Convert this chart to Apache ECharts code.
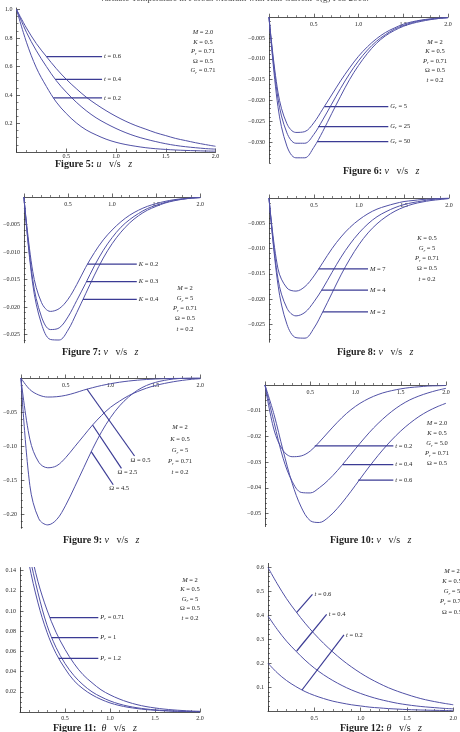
<!DOCTYPE html>
<html>
<head>
<meta charset="utf-8">
<script src="https://cdn.jsdelivr.net/npm/echarts@6/dist/echarts.min.js"></script>
<style>
html, body { margin: 0; padding: 0; background: #fff; }
#chart { width: 460px; height: 732px; }
</style>
</head>
<body>
<div id="chart"></div>
<script>
// z grid shared by every curve
const Z = [0, 0.1, 0.2, 0.3, 0.4, 0.5, 0.6, 0.7, 0.8, 0.9, 1.0, 1.1, 1.2, 1.3, 1.4, 1.5, 1.6, 1.7, 1.8, 1.9, 2.0];

// Figure 5: u v/s z
const fig5T02 = [1.0, 0.77, 0.59, 0.46, 0.35, 0.27, 0.205, 0.155, 0.12, 0.09, 0.068, 0.052, 0.04, 0.03, 0.023, 0.018, 0.014, 0.011, 0.009, 0.007, 0.006];
const fig5T04 = [1.0, 0.84, 0.71, 0.60, 0.50, 0.42, 0.35, 0.29, 0.24, 0.20, 0.165, 0.135, 0.11, 0.09, 0.073, 0.058, 0.046, 0.037, 0.03, 0.024, 0.02];
const fig5T06 = [1.0, 0.87, 0.76, 0.67, 0.585, 0.51, 0.445, 0.385, 0.335, 0.29, 0.25, 0.215, 0.185, 0.16, 0.135, 0.115, 0.095, 0.08, 0.065, 0.052, 0.04];
// Figure 6: v v/s z (Gr)
const fig6Gr5 = [0, -0.0180, -0.0256, -0.0277, -0.0275, -0.0254, -0.0221, -0.0187, -0.0153, -0.0122, -0.0094, -0.0071, -0.0052, -0.0037, -0.0026, -0.0017, -0.0011, -0.0007, -0.0004, -0.0002, -0.0001];
const fig6Gr25 = [0, -0.0195, -0.0278, -0.0303, -0.0303, -0.0282, -0.0247, -0.0209, -0.0171, -0.0136, -0.0105, -0.0079, -0.0058, -0.0042, -0.0029, -0.0020, -0.0013, -0.0008, -0.0005, -0.0003, -0.0001];
const fig6Gr50 = [0, -0.0215, -0.0310, -0.0338, -0.0338, -0.0313, -0.0275, -0.0232, -0.0190, -0.0150, -0.0116, -0.0087, -0.0063, -0.0045, -0.0032, -0.0022, -0.0015, -0.0010, -0.0006, -0.0003, -0.0001];
// Figure 7: v v/s z (K)
const fig7K02 = [0, -0.0135, -0.0192, -0.0208, -0.0203, -0.0186, -0.0159, -0.0128, -0.0101, -0.0078, -0.0060, -0.0045, -0.0033, -0.0024, -0.0017, -0.0012, -0.0008, -0.0005, -0.0003, -0.0002, -0.0001];
const fig7K03 = [0, -0.0150, -0.0218, -0.0241, -0.0238, -0.0218, -0.0188, -0.0157, -0.0125, -0.0097, -0.0074, -0.0055, -0.0041, -0.0030, -0.0021, -0.0015, -0.0010, -0.0006, -0.0004, -0.0002, -0.0001];
const fig7K04 = [0, -0.0158, -0.0231, -0.0259, -0.0260, -0.0242, -0.0210, -0.0176, -0.0142, -0.0111, -0.0085, -0.0064, -0.0047, -0.0034, -0.0024, -0.0017, -0.0011, -0.0007, -0.0004, -0.0002, -0.0001];
// Figure 8: v v/s z (M)
const fig8M7 = [0, -0.0140, -0.0178, -0.0184, -0.0175, -0.0154, -0.0127, -0.0100, -0.0077, -0.0058, -0.0043, -0.0031, -0.0022, -0.0016, -0.0011, -0.0007, -0.0005, -0.0003, -0.0002, -0.0001, 0];
const fig8M4 = [0, -0.0160, -0.0218, -0.0233, -0.0226, -0.0205, -0.0178, -0.0147, -0.0117, -0.0091, -0.0069, -0.0051, -0.0037, -0.0027, -0.0019, -0.0013, -0.0009, -0.0006, -0.0003, -0.0002, -0.0001];
const fig8M2 = [0, -0.0172, -0.0250, -0.0276, -0.0277, -0.0257, -0.0224, -0.0188, -0.0152, -0.0120, -0.0092, -0.0069, -0.0051, -0.0037, -0.0026, -0.0018, -0.0012, -0.0008, -0.0005, -0.0003, -0.0001];
// Figure 9: v v/s z (Omega)
const fig9W05 = [0, -0.0170, -0.0250, -0.0280, -0.0275, -0.0255, -0.0220, -0.0178, -0.0142, -0.0110, -0.0084, -0.0062, -0.0045, -0.0032, -0.0022, -0.0015, -0.0010, -0.0006, -0.0004, -0.0002, -0.0001];
const fig9W25 = [0, -0.090, -0.124, -0.132, -0.129, -0.117, -0.101, -0.085, -0.069, -0.055, -0.043, -0.034, -0.026, -0.020, -0.015, -0.011, -0.008, -0.0055, -0.0035, -0.002, -0.001];
const fig9W45 = [0, -0.158, -0.207, -0.216, -0.208, -0.187, -0.160, -0.132, -0.104, -0.079, -0.058, -0.041, -0.028, -0.018, -0.011, -0.0065, -0.0035, -0.0015, -0.0005, 0, 0];
// Figure 10: v v/s z (t)
const fig10T02 = [0, -0.0175, -0.0255, -0.0279, -0.0276, -0.0257, -0.0222, -0.0183, -0.0145, -0.0111, -0.0083, -0.0061, -0.0044, -0.0031, -0.0022, -0.0015, -0.0010, -0.0007, -0.0004, -0.0003, -0.0002];
const fig10T04 = [0, -0.0145, -0.0285, -0.0375, -0.0418, -0.0420, -0.0400, -0.0370, -0.0333, -0.0291, -0.0248, -0.0206, -0.0167, -0.0133, -0.0103, -0.0078, -0.0058, -0.0043, -0.0031, -0.0021, -0.0013];
const fig10T06 = [0, -0.0115, -0.0255, -0.0382, -0.0475, -0.0528, -0.0535, -0.0515, -0.0480, -0.0437, -0.0390, -0.0342, -0.0296, -0.0253, -0.0214, -0.0179, -0.0149, -0.0123, -0.0102, -0.0085, -0.0071];
// Figure 11: theta v/s z (Pr)
const fig11Pr071 = [0.2, 0.166, 0.129, 0.101, 0.079, 0.062, 0.048, 0.037, 0.029, 0.022, 0.017, 0.013, 0.0098, 0.0073, 0.0054, 0.004, 0.0029, 0.0021, 0.0015, 0.001, 0.0007];
const fig11Pr1 = [0.2, 0.157, 0.118, 0.086, 0.064, 0.048, 0.036, 0.027, 0.020, 0.015, 0.011, 0.008, 0.0058, 0.0042, 0.003, 0.0021, 0.0015, 0.001, 0.0007, 0.0005, 0.0003];
const fig11Pr12 = [0.2, 0.147, 0.108, 0.079, 0.058, 0.043, 0.031, 0.023, 0.017, 0.0125, 0.009, 0.0065, 0.0047, 0.0034, 0.0024, 0.0017, 0.0012, 0.0008, 0.0005, 0.0003, 0.0002];
// Figure 12: theta v/s z (t)
const fig12T06 = [0.598, 0.53, 0.468, 0.415, 0.366, 0.322, 0.282, 0.246, 0.213, 0.184, 0.158, 0.135, 0.115, 0.097, 0.082, 0.069, 0.057, 0.047, 0.039, 0.032, 0.026];
const fig12T04 = [0.396, 0.340, 0.291, 0.250, 0.212, 0.179, 0.151, 0.127, 0.106, 0.088, 0.073, 0.060, 0.049, 0.040, 0.032, 0.026, 0.021, 0.017, 0.014, 0.011, 0.009];
const fig12T02 = [0.199, 0.159, 0.127, 0.102, 0.081, 0.065, 0.052, 0.041, 0.033, 0.026, 0.021, 0.016, 0.013, 0.010, 0.008, 0.006, 0.0047, 0.0036, 0.0028, 0.0021, 0.0016];

// y tick labels
const fig5YTicks = [0.2, 0.4, 0.6, 0.8, 1.0];
const fig6YTicks = [-0.030, -0.025, -0.020, -0.015, -0.010, -0.005];
const fig7YTicks = [-0.025, -0.020, -0.015, -0.010, -0.005];
const fig8YTicks = [-0.025, -0.020, -0.015, -0.010, -0.005];
const fig9YTicks = [-0.20, -0.15, -0.10, -0.05];
const fig10YTicks = [-0.05, -0.04, -0.03, -0.02, -0.01];
const fig11YTicks = [0.02, 0.04, 0.06, 0.08, 0.10, 0.12, 0.14];
const fig12YTicks = [0.1, 0.2, 0.3, 0.4, 0.5, 0.6];

// leader lines: [z0, v0, z1, v1, label, dx, dy]
const fig5Leaders = [
    [0.30, 0.669, 0.86, 0.669, '{i|t}{n| = 0.6}', 0, 0],
    [0.39, 0.51, 0.86, 0.51, '{i|t}{n| = 0.4}', 0, 0],
    [0.37, 0.38, 0.86, 0.38, '{i|t}{n| = 0.2}', 0, 0],
];
const fig6Leaders = [
    [0.62, -0.0215, 1.333, -0.0215, '{i|G}{s|r}{n| = 5}', 0, 0],
    [0.55, -0.0263, 1.333, -0.0263, '{i|G}{s|r}{n| = 25}', 0, 0],
    [0.54, -0.0299, 1.333, -0.0299, '{i|G}{s|r}{n| = 50}', 0, 0],
];
const fig7Leaders = [
    [0.72, -0.0122, 1.28, -0.0122, '{i|K}{n| = 0.2}', 0, 0],
    [0.71, -0.0154, 1.28, -0.0154, '{i|K}{n| = 0.3}', 0, 0],
    [0.67, -0.0186, 1.28, -0.0186, '{i|K}{n| = 0.4}', 0, 0],
];
const fig8Leaders = [
    [0.55, -0.0140, 1.10, -0.0140, '{i|M}{n| = 7}', 0, 0],
    [0.585, -0.0182, 1.10, -0.0182, '{i|M}{n| = 4}', 0, 0],
    [0.597, -0.0225, 1.10, -0.0225, '{i|M}{n| = 2}', 0, 0],
];
const fig9Leaders = [
    [0.736, -0.0162, 1.267, -0.1147, '{n|Ω = 0.5}', -6, 4],
    [0.799, -0.0691, 1.121, -0.1328, '{n|Ω = 2.5}', -6, 4],
    [0.784, -0.1083, 1.029, -0.157, '{n|Ω = 4.5}', -6, 4],
];
const fig10Leaders = [
    [0.55, -0.0237, 1.418, -0.0237, '{i|t}{n| = 0.2}', 0, 0],
    [0.86, -0.0310, 1.418, -0.0310, '{i|t}{n| = 0.4}', 0, 0],
    [1.03, -0.0370, 1.418, -0.0370, '{i|t}{n| = 0.6}', 0, 0],
];
const fig11Leaders = [
    [0.333, 0.0934, 0.87, 0.0934, '{i|P}{s|r}{n| = 0.71}', 0, 0],
    [0.35, 0.0736, 0.87, 0.0736, '{i|P}{s|r}{n| = 1}', 0, 0],
    [0.43, 0.0531, 0.87, 0.0531, '{i|P}{s|r}{n| = 1.2}', 0, 0],
];
const fig12Leaders = [
    [0.31, 0.411, 0.48, 0.486, '{i|t}{n| = 0.6}', 0, 0],
    [0.31, 0.250, 0.633, 0.403, '{i|t}{n| = 0.4}', 0, 0],
    [0.367, 0.0875, 0.82, 0.317, '{i|t}{n| = 0.2}', 0, 0],
];

// parameter blocks
const fig5Params = ['{i|M}{n| = 2.0}', '{i|K}{n| = 0.5}', '{i|P}{s|r}{n| = 0.71}', '{n|Ω = 0.5}', '{i|G}{s|r}{n| = 0.71}'];
const fig6Params = ['{i|M}{n| = 2}', '{i|K}{n| = 0.5}', '{i|P}{s|r}{n| = 0.71}', '{n|Ω = 0.5}', '{i|t}{n| = 0.2}'];
const fig7Params = ['{i|M}{n| = 2}', '{i|G}{s|r}{n| = 5}', '{i|P}{s|r}{n| = 0.71}', '{n|Ω = 0.5}', '{i|t}{n| = 0.2}'];
const fig8Params = ['{i|K}{n| = 0.5}', '{i|G}{s|r}{n| = 5}', '{i|P}{s|r}{n| = 0.71}', '{n|Ω = 0.5}', '{i|t}{n| = 0.2}'];
const fig9Params = ['{i|M}{n| = 2}', '{i|K}{n| = 0.5}', '{i|G}{s|r}{n| = 5}', '{i|P}{s|r}{n| = 0.71}', '{i|t}{n| = 0.2}'];
const fig10Params = ['{i|M}{n| = 2.0}', '{i|K}{n| = 0.5}', '{i|G}{s|r}{n| = 5.0}', '{i|P}{s|r}{n| = 0.71}', '{n|Ω = 0.5}'];
const fig11Params = ['{i|M}{n| = 2}', '{i|K}{n| = 0.5}', '{i|G}{s|r}{n| = 5}', '{n|Ω = 0.5}', '{i|t}{n| = 0.2}'];
const fig12Params = ['{i|M}{n| = 2}', '{i|K}{n| = 0.5}', '{i|G}{s|r}{n| = 5}', '{i|P}{s|r}{n| = 0.71}', '{n|Ω = 0.5}'];

const FONT = '"Liberation Serif", "DejaVu Serif", serif';
const CURVE = '#5151a6';
const LEAD = '#3b3b94';
const AXIS = '#2a2a2a';
const TXT = '#1e1e1e';

function richStyles(size, lh) {
    return {
        i: { fontFamily: FONT, fontSize: size, fontStyle: 'italic', color: TXT, fill: TXT, lineHeight: lh },
        n: { fontFamily: FONT, fontSize: size, color: TXT, fill: TXT, lineHeight: lh },
        b: { fontFamily: FONT, fontSize: size, fontWeight: 'bold', color: TXT, fill: TXT, lineHeight: lh },
        s: { fontFamily: FONT, fontSize: size * 0.7, fontStyle: 'italic', color: TXT, fill: TXT, lineHeight: lh, verticalAlign: 'bottom' },
    };
}

const minus = (v, d) => '\u2212' + Math.abs(v).toFixed(d);

const panels = [
    { grid: { left: 16.5, top: 8, width: 199, height: 144 }, xPos: 'bottom', xMargin: 1.5, yMin: 0, yMax: 1.01,
      yTicks: fig5YTicks, yMinor: 0.05, yFmt: v => v.toFixed(1), curves: [fig5T02, fig5T04, fig5T06],
      leaders: fig5Leaders, params: fig5Params, paramsAt: [203, 28, 9.5],
      caption: '{b|Figure 5: }{i|u}{n|   v/s   }{i|z}', captionAt: [55, 164] },
    { grid: { left: 269, top: 17.2, width: 179, height: 145.6 }, xPos: 'top', xMargin: 4, yMin: -0.035, yMax: 0,
      yTicks: fig6YTicks, yMinor: 0.001, yFmt: v => minus(v, 3), curves: [fig6Gr5, fig6Gr25, fig6Gr50],
      leaders: fig6Leaders, params: fig6Params, paramsAt: [435, 37, 9.6],
      caption: '{b|Figure 6: }{i|v}{n|   v/s   }{i|z}', captionAt: [343, 171] },
    { grid: { left: 18.3, top: 197, width: 182, height: 145.75 }, xPos: 'top', xMargin: 4, yMin: -0.0265, yMax: 0,
      yTicks: fig7YTicks, yMinor: 0.001, yFmt: v => minus(v, 3), curves: [fig7K02, fig7K03, fig7K04],
      leaders: fig7Leaders, params: fig7Params, paramsAt: [185, 283, 10.2],
      caption: '{b|Figure 7: }{i|v}{n|   v/s   }{i|z}', captionAt: [62, 352] },
    { grid: { left: 269, top: 198, width: 180, height: 144.2 }, xPos: 'top', xMargin: 4, yMin: -0.0285, yMax: 0,
      yTicks: fig8YTicks, yMinor: 0.001, yFmt: v => minus(v, 3), curves: [fig8M7, fig8M4, fig8M2],
      leaders: fig8Leaders, params: fig8Params, paramsAt: [427, 233, 10.2],
      caption: '{b|Figure 8: }{i|v}{n|   v/s   }{i|z}', captionAt: [337, 352] },
    { grid: { left: 18.3, top: 378, width: 182, height: 150.3 }, xPos: 'top', xMargin: 4, yMin: -0.221, yMax: 0,
      yTicks: fig9YTicks, yMinor: 0.01, yFmt: v => minus(v, 2), curves: [fig9W05, fig9W25, fig9W45],
      leaders: fig9Leaders, params: fig9Params, paramsAt: [180, 422, 11.2],
      caption: '{b|Figure 9: }{i|v}{n|   v/s   }{i|z}', captionAt: [63, 540] },
    { grid: { left: 265, top: 385, width: 181, height: 141.6 }, xPos: 'top', xMargin: 4, yMin: -0.0551, yMax: 0,
      yTicks: fig10YTicks, yMinor: 0.002, yFmt: v => minus(v, 2), curves: [fig10T02, fig10T04, fig10T06],
      leaders: fig10Leaders, params: fig10Params, paramsAt: [437, 418, 10],
      caption: '{b|Figure 10: }{i|v}{n|   v/s   }{i|z}', captionAt: [330, 540] },
    { grid: { left: 20, top: 567.6, width: 180, height: 144.4 }, xPos: 'bottom', xMargin: 3.5, yMin: 0, yMax: 0.143,
      yTicks: fig11YTicks, yMinor: 0.005, yFmt: v => v.toFixed(2), curves: [fig11Pr071, fig11Pr1, fig11Pr12],
      leaders: fig11Leaders, params: fig11Params, paramsAt: [190, 575, 9.6],
      caption: '{b|Figure 11:  }{i|θ}{n|   v/s   }{i|z}', captionAt: [53, 728] },
    { grid: { left: 268, top: 563.4, width: 196, height: 147.6 }, xPos: 'bottom', xMargin: 4, yMin: 0, yMax: 0.615,
      yTicks: fig12YTicks, yMinor: 0.02, yFmt: v => v.toFixed(1), curves: [fig12T06, fig12T04, fig12T02],
      leaders: fig12Leaders, params: fig12Params, paramsAt: [452, 566, 10.2],
      caption: '{b|Figure 12: }{i|θ}{n|   v/s   }{i|z}', captionAt: [340, 728] },
];

function minorTicks(min, max, step, majors) {
    const out = [];
    const a = Math.ceil(min / step - 1e-6), b = Math.floor(max / step + 1e-6);
    for (let k = a; k <= b; k++) {
        const v = +(k * step).toFixed(6);
        if (v === 0) continue;
        if (majors.some(m => Math.abs(m - v) < step * 0.01)) continue;
        out.push(v);
    }
    return out;
}

const option = {
    animation: false,
    backgroundColor: '#fff',
    grid: [], xAxis: [], yAxis: [], series: [], graphic: [],
};

panels.forEach((p, i) => {
    option.grid.push(p.grid);
    option.xAxis.push({
        gridIndex: i, type: 'value', min: 0, max: 2, interval: 0.5, position: p.xPos,
        axisLine: { onZero: false, lineStyle: { color: AXIS, width: 0.8 } },
        axisTick: { inside: p.xPos === 'bottom', length: 3.5, lineStyle: { color: AXIS, width: 0.7 } },
        minorTick: { show: true, splitNumber: 5, length: 2, lineStyle: { color: AXIS, width: 0.6 } },
        axisLabel: { inside: p.xPos === 'top', margin: p.xMargin, fontSize: 6, fontFamily: FONT, color: TXT,
            formatter: v => (v === 0 ? '' : v.toFixed(1)) },
        splitLine: { show: false }, minorSplitLine: { show: false },
    });
    option.yAxis.push({
        gridIndex: i, type: 'value', min: p.yMin, max: p.yMax, position: 'left',
        axisLine: { onZero: false, lineStyle: { color: AXIS, width: 0.8 } },
        axisTick: { inside: true, length: 3.5, customValues: p.yTicks, lineStyle: { color: AXIS, width: 0.7 } },
        axisLabel: { customValues: p.yTicks, margin: 4, fontSize: 6, fontFamily: FONT, color: TXT, formatter: p.yFmt },
        splitLine: { show: false },
    });
    option.yAxis.push({
        gridIndex: i, type: 'value', min: p.yMin, max: p.yMax, position: 'left',
        axisLine: { show: false },
        axisTick: { inside: true, length: 2, customValues: minorTicks(p.yMin, p.yMax, p.yMinor, p.yTicks),
            lineStyle: { color: AXIS, width: 0.6 } },
        axisLabel: { show: false },
        splitLine: { show: false },
    });
    p.curves.forEach(arr => {
        option.series.push({
            type: 'line', xAxisIndex: i, yAxisIndex: 2 * i, smooth: 0.35, symbol: 'none',
            lineStyle: { color: CURVE, width: 1 },
            data: Z.map((z, k) => [z, arr[k]]),
        });
    });
    p.leaders.forEach(l => {
        option.series.push({
            type: 'line', xAxisIndex: i, yAxisIndex: 2 * i, symbol: 'none', clip: false,
            lineStyle: { color: LEAD, width: 1.2 },
            data: [[l[0], l[1]], [l[2], l[3]]],
            endLabel: { show: true, distance: 2, offset: [l[5], l[6]], formatter: () => l[4], rich: richStyles(6.5, 8) },
        });
    });
    option.graphic.push({
        type: 'text', x: p.paramsAt[0], y: p.paramsAt[1], silent: true,
        style: { text: p.params.join('\n'), rich: richStyles(6.5, p.paramsAt[2]),
            align: 'center', textAlign: 'center', verticalAlign: 'top', textVerticalAlign: 'top' },
    });
    option.graphic.push({
        type: 'text', x: p.captionAt[0], y: p.captionAt[1], silent: true,
        style: { text: p.caption, rich: richStyles(10, 12),
            align: 'left', textAlign: 'left', verticalAlign: 'middle', textVerticalAlign: 'middle' },
    });
});

// page header, cut off at the top edge
option.graphic.push({
    type: 'text', x: 234, y: 3.5, silent: true,
    style: { text: 'Variable Temperature in Porous Medium with Hall Current  J(g) Feb 2016.',
        font: '9px ' + FONT, fill: '#444', align: 'center', textAlign: 'center',
        verticalAlign: 'bottom', textVerticalAlign: 'bottom' },
});

const myChart = echarts.init(document.getElementById('chart'));
myChart.setOption(option);
</script>
</body>
</html>
